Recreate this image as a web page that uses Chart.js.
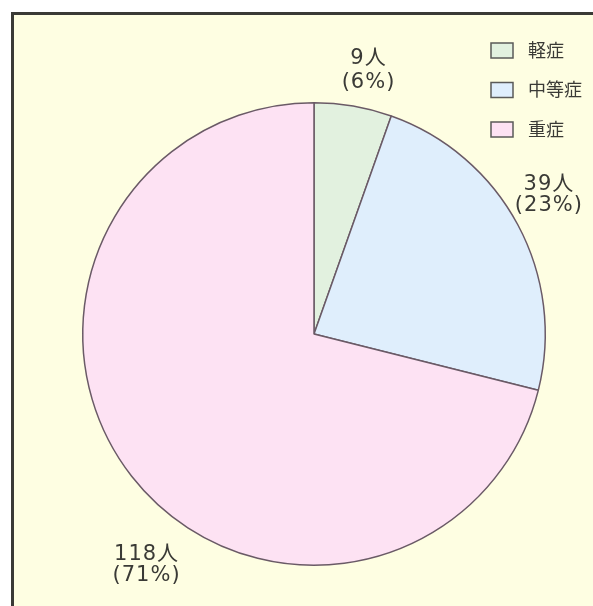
<!DOCTYPE html>
<html><head><meta charset="utf-8">
<script src="https://cdn.jsdelivr.net/npm/chart.js@4/dist/chart.umd.min.js"></script>
<style>
html,body{margin:0;padding:0;background:#fff;}
#wrap{position:absolute;left:0;top:0;width:593px;height:606px;overflow:hidden;background:#fff;}
#frame{position:absolute;left:11px;top:12px;width:600px;height:620px;background:#fefee2;border-left:3px solid #3a3a36;border-top:3px solid #3a3a36;}
canvas{position:absolute;left:0;top:0;}
</style></head>
<body>
<div id="wrap"><div id="frame"></div><canvas id="c" width="593" height="606"></canvas></div>
<script>
const categories = ['軽症', '中等症', '重症'];
const counts = [9, 39, 118];
const percentLabels = ['(6%)', '(23%)', '(71%)'];
const countLabels = ['9人', '39人', '118人'];
const sliceColors = ['#e2f1df', '#dfeefc', '#fde2f3'];

const FONT = '"Noto Sans CJK JP", "Noto Sans", sans-serif';
const NUMFONT = '"DejaVu Sans", "Noto Sans CJK JP", sans-serif';

const labelPlugin = {
  id: 'sliceLabels',
  afterDatasetsDraw(chart, args, opts) {
    const ctx = chart.ctx;
    const meta = chart.getDatasetMeta(0);
    ctx.save();
    ctx.fillStyle = '#3a3a36';
    ctx.font = '21px ' + NUMFONT;
    if ('letterSpacing' in ctx) ctx.letterSpacing = '1px';
    ctx.textAlign = 'center';
    ctx.textBaseline = 'middle';
    meta.data.forEach((arc, i) => {
      const p = opts.place[i];
      const mid = (arc.startAngle + arc.endAngle) / 2 + p.da;
      const r = arc.outerRadius * p.rf;
      const x = arc.x + Math.cos(mid) * r;
      const y = arc.y + Math.sin(mid) * r;
      ctx.fillText(countLabels[i], x, y - p.gap / 2);
      ctx.fillText(percentLabels[i], x, y + p.gap / 2);
    });
    ctx.restore();
  }
};

const legendPlugin = {
  id: 'boxLegend',
  afterDraw(chart, args, opts) {
    const ctx = chart.ctx;
    const ds = chart.data.datasets[0];
    ctx.save();
    ctx.font = '18px ' + FONT;
    ctx.textBaseline = 'middle';
    ctx.textAlign = 'left';
    chart.data.labels.forEach((lab, i) => {
      const y = opts.y + i * opts.step;
      ctx.fillStyle = ds.backgroundColor[i];
      ctx.fillRect(opts.x, y - 7, 22, 15);
      ctx.strokeStyle = '#5a5a58';
      ctx.lineWidth = 1.5;
      ctx.strokeRect(opts.x, y - 7, 22, 15);
      ctx.fillStyle = '#3a3a36';
      ctx.fillText(lab, opts.x + 37, y);
    });
    ctx.restore();
  }
};

new Chart(document.getElementById('c'), {
  type: 'pie',
  data: {
    labels: categories,
    datasets: [{
      data: counts,
      backgroundColor: sliceColors,
      borderColor: '#6a5a66',
      borderWidth: 1.5
    }]
  },
  options: {
    responsive: false,
    animation: false,
    layout: { padding: { left: 82, right: 47, top: 102, bottom: 40 } },
    plugins: {
      legend: { display: false },
      tooltip: { enabled: false },
      sliceLabels: {
        place: [
          { da: 0.034, rf: 1.162, gap: 24 },
          { da: -0.042, rf: 1.18, gap: 21 },
          { da: -0.2817, rf: 1.2346, gap: 21 }
        ]
      },
      boxLegend: { x: 491, y: 50, step: 39.5 }
    }
  },
  plugins: [labelPlugin, legendPlugin]
});
</script>
</body></html>
